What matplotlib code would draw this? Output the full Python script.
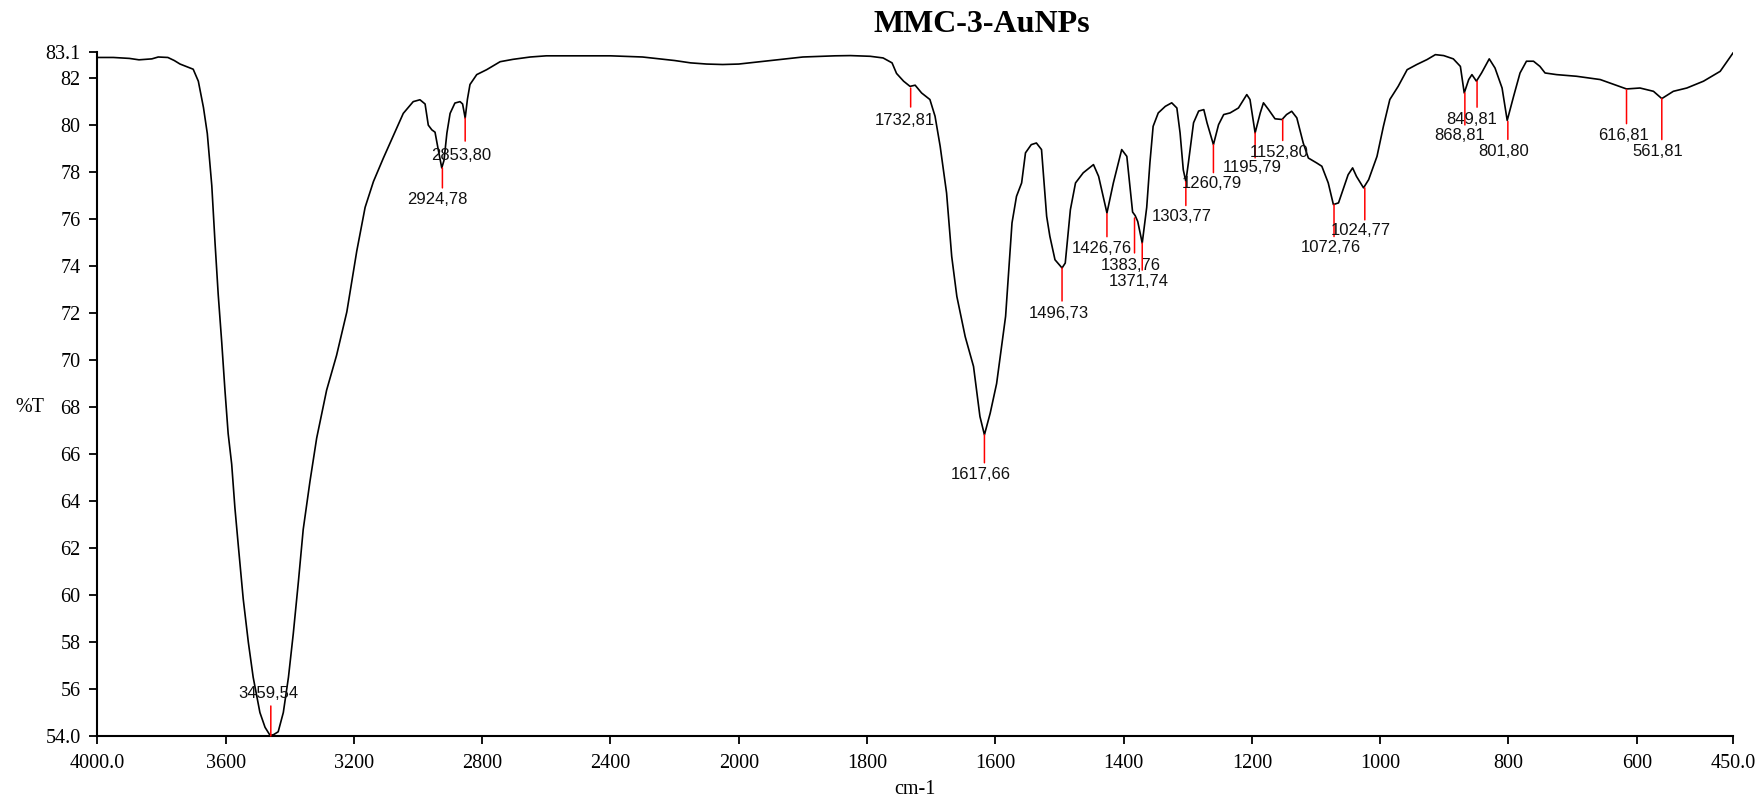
import numpy as np
import matplotlib
matplotlib.use("Agg")
import matplotlib.pyplot as plt
from matplotlib import font_manager

# ---------------- data ----------------
wavenumber = [4000, 3950, 3900, 3870, 3850, 3830, 3810, 3780, 3760, 3742, 3720, 3701,
              3685, 3669, 3657, 3643, 3633, 3623, 3612, 3602, 3592, 3581, 3571, 3560,
              3545, 3529, 3514, 3493, 3477, 3461, 3450, 3436, 3420, 3404, 3389, 3373,
              3358, 3337, 3316, 3285, 3254, 3222, 3191, 3165, 3139, 3108, 3077, 3046,
              3015, 2994, 2978, 2968, 2957, 2947, 2937, 2926, 2919, 2910, 2900, 2885,
              2869, 2861, 2853, 2846, 2838, 2817, 2786, 2744, 2704, 2650, 2600, 2500,
              2400, 2300, 2200, 2150, 2100, 2050, 2000, 1950, 1900, 1850, 1826, 1795,
              1775, 1761, 1754, 1743, 1733, 1725, 1715, 1702, 1694, 1686, 1676, 1668,
              1660, 1647, 1634, 1624, 1617, 1608, 1598, 1584, 1574, 1567, 1559, 1553,
              1544, 1536, 1528, 1520, 1515, 1507, 1496, 1491, 1483, 1475, 1463, 1447,
              1439, 1426, 1416, 1403, 1395, 1386, 1382, 1378, 1371, 1364, 1359, 1354,
              1346, 1335, 1325, 1317, 1312, 1307, 1303, 1299, 1291, 1283, 1275, 1270,
              1260, 1252, 1244, 1234, 1221, 1208, 1203, 1195, 1187, 1182, 1174, 1164,
              1153, 1146, 1138, 1130, 1120, 1112, 1099, 1091, 1081, 1073, 1065, 1058,
              1050, 1043, 1037, 1026, 1018, 1005, 995, 985, 972, 958, 943, 927,
              914, 901, 886, 875, 869, 862, 857, 850, 842, 830, 821, 810,
              802, 792, 782, 772, 761, 751, 743, 725, 694, 657, 616, 595,
              574, 561, 543, 522, 496, 470, 450]
transmittance = [82.88, 82.88, 82.84, 82.78, 82.80, 82.82, 82.90, 82.88, 82.75, 82.60, 82.48, 82.38,
                 81.87, 80.75, 79.64, 77.42, 75.01, 72.79, 70.75, 68.72, 66.87, 65.57, 63.72, 62.05,
                 59.83, 57.98, 56.50, 55.00, 54.37, 54.02, 54.06, 54.18, 55.00, 56.50, 58.35, 60.57,
                 62.79, 64.83, 66.68, 68.72, 70.20, 72.05, 74.64, 76.50, 77.60, 78.60, 79.55, 80.50,
                 81.00, 81.08, 80.90, 80.00, 79.80, 79.70, 78.96, 78.18, 78.50, 79.66, 80.50, 80.94,
                 81.00, 80.90, 80.30, 81.10, 81.73, 82.15, 82.36, 82.70, 82.80, 82.90, 82.95, 82.95,
                 82.95, 82.90, 82.75, 82.65, 82.60, 82.58, 82.60, 82.75, 82.90, 82.95, 82.96, 82.93,
                 82.86, 82.65, 82.20, 81.87, 81.65, 81.70, 81.37, 81.09, 80.38, 79.10, 77.11, 74.41,
                 72.71, 71.00, 69.73, 67.60, 66.82, 67.74, 69.00, 71.86, 75.84, 76.97, 77.54, 78.82,
                 79.17, 79.24, 78.96, 76.12, 75.27, 74.27, 73.92, 74.13, 76.40, 77.54, 77.97, 78.32,
                 77.82, 76.26, 77.54, 78.96, 78.67, 76.30, 76.15, 75.90, 74.98, 76.50, 78.40, 79.95,
                 80.52, 80.80, 80.95, 80.73, 79.67, 78.10, 77.60, 78.40, 80.10, 80.60, 80.66, 80.10,
                 79.17, 80.02, 80.45, 80.52, 80.73, 81.30, 81.09, 79.67, 80.52, 80.95, 80.66, 80.27,
                 80.24, 80.45, 80.59, 80.31, 79.24, 78.60, 78.39, 78.25, 77.54, 76.62, 76.69, 77.25,
                 77.89, 78.18, 77.82, 77.33, 77.68, 78.67, 79.95, 81.09, 81.65, 82.36, 82.58, 82.79,
                 83.00, 82.96, 82.82, 82.50, 81.37, 81.94, 82.15, 81.87, 82.22, 82.82, 82.43, 81.58,
                 80.20, 81.23, 82.22, 82.72, 82.72, 82.50, 82.22, 82.15, 82.08, 81.94, 81.54, 81.58,
                 81.44, 81.13, 81.44, 81.58, 81.87, 82.29, 83.07]

peak_wn = [3459, 2924, 2853, 1732, 1617, 1496, 1426, 1383, 1371, 1303,
           1260, 1195, 1152, 1072, 1024, 868, 849, 801, 616, 561]
peak_T = [54.0, 78.18, 80.30, 81.58, 66.82, 73.92, 76.23, 76.05, 74.98, 77.60,
          79.17, 79.67, 80.24, 76.62, 77.33, 81.37, 81.87, 80.16, 81.51, 81.13]

x_ticks = [4000, 3600, 3200, 2800, 2400, 2000, 1800, 1600, 1400, 1200, 1000, 800, 600, 450]
x_ticklabels = ["4000.0", "3600", "3200", "2800", "2400", "2000", "1800", "1600",
                "1400", "1200", "1000", "800", "600", "450.0"]
y_ticks = [54.0, 56, 58, 60, 62, 64, 66, 68, 70, 72, 74, 76, 78, 80, 82, 83.1]
y_ticklabels = ["54.0", "56", "58", "60", "62", "64", "66", "68", "70", "72", "74",
                "76", "78", "80", "82", "83.1"]

# -------------- layout (pixels) for peak markers --------------
line_len = [-30, 20, 23, 19, 28, 33, 23, 35, 27, 24, 28, 25, 21, 32, 32, 32, 26, 18, 34, 41]
lab_dx = [-2, -5, -4, -6, -4, -3, -5, -4, -3, -4, -2, -3, -4, -3, -4, -5, -5, -4, -3, -4]
lab_dy = [-42, 32, 37, 32, 40, 46, 35, 48, 38, 35, 39, 35, 33, 43, 43, 43, 38, 30, 46, 53]

# -------------- fonts --------------
SERIF = ["Liberation Serif", "DejaVu Serif"]
try:
    font_manager.findfont(font_manager.FontProperties(family="Liberation Sans Narrow"),
                          fallback_to_default=False)
    LABEL_FAMILY, LABEL_SIZE = ["Liberation Sans Narrow", "Liberation Sans"], 14
except Exception:
    LABEL_FAMILY, LABEL_SIZE = ["Liberation Sans", "DejaVu Sans"], 12

# -------------- plot --------------
fig = plt.figure(figsize=(17.6, 8), dpi=100)
ax = fig.add_axes([97.3 / 1760, 1 - 736 / 800, (1733 - 97.3) / 1760, (736 - 52.3) / 800])


def fwd(x):
    x = np.asarray(x, dtype=float)
    return np.where(x > 2000, 2000 + (x - 2000) / 2.0, x)


def inv(u):
    u = np.asarray(u, dtype=float)
    return np.where(u > 2000, 2000 + (u - 2000) * 2.0, u)


ax.set_xscale("function", functions=(fwd, inv))
ax.plot(wavenumber, transmittance, color="black", lw=1.2, solid_joinstyle="round")
ax.set_xlim(4000, 450)
ax.set_ylim(54.0, 83.1)

ax.set_xticks(x_ticks)
ax.set_xticklabels(x_ticklabels, fontfamily=SERIF, fontsize=14.5)
ax.set_yticks(y_ticks)
ax.set_yticklabels(y_ticklabels, fontfamily=SERIF, fontsize=14.5)
ax.minorticks_off()
ax.tick_params(axis="both", direction="out", length=6, width=1.3, color="black")
ax.tick_params(axis="x", pad=7)
ax.tick_params(axis="y", pad=6)

for s in ["top", "right"]:
    ax.spines[s].set_visible(False)
for s in ["left", "bottom"]:
    ax.spines[s].set_linewidth(1.5)

# peak markers
for wn, t, L, dx, dy in zip(peak_wn, peak_T, line_len, lab_dx, lab_dy):
    ax.annotate("", xy=(wn, t), xytext=(0, -L), textcoords="offset pixels",
                arrowprops=dict(arrowstyle="-", color="red", lw=1.1, shrinkA=0, shrinkB=0))
    ax.annotate(f"{wn},{int(t)}", xy=(wn, t), xytext=(dx, -dy), textcoords="offset pixels",
                ha="center", va="center", fontsize=LABEL_SIZE, fontfamily=LABEL_FAMILY,
                color="#111111")

fig.text(982 / 1760, 1 - 25 / 800, "MMC-3-AuNPs", ha="center", va="center",
         fontsize=23, fontweight="bold", fontfamily=SERIF)
fig.text(915 / 1760, 1 - 789 / 800, "cm-1", ha="center", va="center",
         fontsize=14.5, fontfamily=SERIF)
fig.text(30 / 1760, 1 - 407 / 800, "%T", ha="center", va="center",
         fontsize=14.5, fontfamily=SERIF)

fig.savefig("out.png", dpi=100)
